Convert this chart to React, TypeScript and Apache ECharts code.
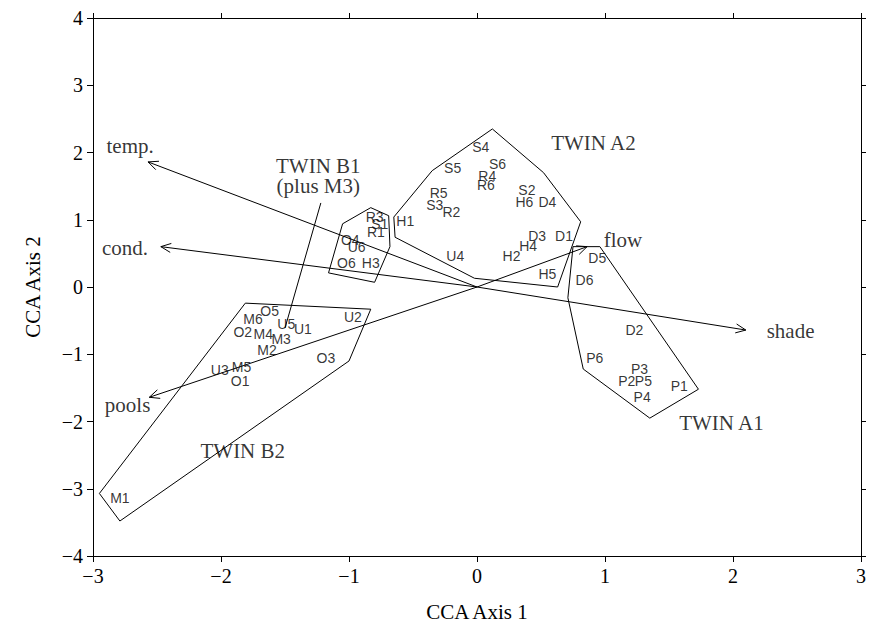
import React, { useEffect, useRef } from "react";
import * as echarts from "echarts";

// Site scores (label centres) on CCA axes 1 and 2
const siteNames = [
  "S4", "S5", "S6", "R4", "R6", "R5", "S3", "R2", "S2", "H6", "D4", "H1", "D3", "D1", "H4", "H2", "U4", "H5",
  "D5", "D6", "D2", "P6", "P3", "P2", "P5", "P4", "P1",
  "R3", "S1", "R1", "O4", "U6", "O6", "H3",
  "O5", "M6", "U5", "U1", "O2", "M4", "M3", "M2", "U2", "U3", "M5", "O1", "O3", "M1",
];
const siteX = [
  0.03, -0.19, 0.16, 0.08, 0.07, -0.30, -0.33, -0.20, 0.39, 0.37, 0.55, -0.56, 0.47, 0.68, 0.40, 0.27, -0.17, 0.55,
  0.94, 0.84, 1.23, 0.92, 1.27, 1.17, 1.30, 1.29, 1.58,
  -0.80, -0.76, -0.79, -0.99, -0.94, -1.02, -0.83,
  -1.62, -1.75, -1.49, -1.36, -1.83, -1.67, -1.53, -1.64, -0.97, -2.01, -1.84, -1.85, -1.18, -2.79,
];
const siteY = [
  2.08, 1.77, 1.83, 1.65, 1.52, 1.40, 1.22, 1.12, 1.44, 1.26, 1.26, 0.98, 0.76, 0.76, 0.61, 0.46, 0.46, 0.19,
  0.43, 0.10, -0.64, -1.06, -1.22, -1.40, -1.40, -1.64, -1.47,
  1.04, 0.94, 0.82, 0.70, 0.60, 0.36, 0.36,
  -0.36, -0.48, -0.55, -0.63, -0.67, -0.70, -0.77, -0.94, -0.45, -1.24, -1.19, -1.40, -1.06, -3.14,
];

// Environmental biplot arrows (tips) and their labels
const envNames = ["temp.", "cond.", "pools", "flow", "shade"];
const envTipX = [-2.57, -2.47, -2.56, 0.86, 2.10];
const envTipY = [1.86, 0.60, -1.64, 0.60, -0.64];
const envLabelX = [-2.71, -2.75, -2.73, 1.14, 2.45];
const envLabelY = [2.10, 0.58, -1.76, 0.70, -0.65];

// TWINSPAN group labels
const groupNames = ["TWIN A2", "TWIN B1", "(plus M3)", "TWIN A1", "TWIN B2"];
const groupX = [0.91, -1.24, -1.24, 1.91, -1.83];
const groupY = [2.14, 1.80, 1.50, -2.02, -2.44];

// Group hulls
const hullA2 = [[-0.35, 1.73], [0.12, 2.35], [0.52, 1.70], [0.81, 0.97], [0.63, 0.0], [-0.02, 0.13], [-0.64, 0.74], [-0.65, 1.04]];
const hullB1 = [[-0.83, 1.18], [-0.69, 1.06], [-0.68, 0.60], [-0.80, 0.07], [-1.16, 0.21], [-1.05, 0.94]];
const hullA1 = [[0.75, 0.60], [0.96, 0.60], [1.73, -1.52], [1.35, -1.95], [0.83, -1.22], [0.71, -0.16]];
const hullB2 = [[-1.81, -0.24], [-0.83, -0.33], [-1.00, -1.10], [-2.79, -3.48], [-2.95, -3.07]];
const leaderB1 = [[-1.22, 1.25], [-1.50, -0.61]];

const SERIF = "Liberation Serif";
const SANS = "Liberation Sans";

const closed = (pts: number[][]) => [...pts, pts[0]];
const minus = (v: number) => String(v).replace("-", "\u2212");

export default function App() {
  const ref = useRef<HTMLDivElement>(null);
  useEffect(() => {
    if (!ref.current) return;
    const chart = echarts.init(ref.current, undefined, { renderer: "svg" });
    const lineSeries = (pts: number[][]) => ({
      type: "line",
      data: pts,
      symbol: "none",
      silent: true,
      lineStyle: { color: "#000", width: 1 },
      z: 2,
    });
    const textSeries = (names: string[], xs: number[], ys: number[], font: string, size: number) => ({
      type: "scatter",
      silent: true,
      symbolSize: 1,
      itemStyle: { color: "rgba(0,0,0,0)" },
      data: names.map((n, i) => ({ name: n, value: [xs[i], ys[i]] })),
      label: {
        show: true,
        position: "inside",
        formatter: (p: any) => p.name,
        color: "#000",
        fontFamily: font,
        fontSize: size,
      },
      z: 5,
    });
    const baseX = {
      type: "value",
      min: -3,
      max: 3,
      interval: 1,
      splitLine: { show: false },
      axisLine: { show: true, onZero: false, lineStyle: { color: "#000", width: 1 } },
    };
    const baseY = {
      type: "value",
      min: -4,
      max: 4,
      interval: 1,
      splitLine: { show: false },
      axisLine: { show: true, onZero: false, lineStyle: { color: "#000", width: 1 } },
    };
    chart.setOption({
      animation: false,
      backgroundColor: "#fff",
      grid: { left: 93, right: 3, top: 18, bottom: 80 },
      xAxis: [
        {
          ...baseX,
          position: "bottom",
          axisTick: { show: true, length: 6, lineStyle: { color: "#000" } },
          axisLabel: { color: "#000", fontFamily: SERIF, fontSize: 20, margin: 10, formatter: minus },
          name: "CCA Axis 1",
          nameLocation: "middle",
          nameGap: 45,
          nameTextStyle: { color: "#000", fontFamily: SERIF, fontSize: 21 },
        },
        {
          ...baseX,
          position: "top",
          axisTick: { show: true, length: 5, lineStyle: { color: "#000" } },
          axisLabel: { show: false },
        },
      ],
      yAxis: [
        {
          ...baseY,
          position: "left",
          axisTick: { show: true, length: 6, lineStyle: { color: "#000" } },
          axisLabel: { color: "#000", fontFamily: SERIF, fontSize: 20, margin: 10, formatter: minus },
          name: "CCA Axis 2",
          nameLocation: "middle",
          nameGap: 50,
          nameTextStyle: { color: "#000", fontFamily: SERIF, fontSize: 21 },
        },
        {
          ...baseY,
          position: "right",
          axisTick: { show: true, length: 5, lineStyle: { color: "#000" } },
          axisLabel: { show: false },
        },
      ],
      series: [
        lineSeries(closed(hullA2)),
        lineSeries(closed(hullB1)),
        lineSeries(closed(hullA1)),
        lineSeries(closed(hullB2)),
        lineSeries(leaderB1),
        {
          type: "custom",
          silent: true,
          data: envTipX.map((x, i) => [x, envTipY[i]]),
          renderItem: (_params: any, api: any) => {
            const o = api.coord([0, 0]);
            const t = api.coord([api.value(0), api.value(1)]);
            const dx = t[0] - o[0];
            const dy = t[1] - o[1];
            const len = Math.hypot(dx, dy);
            const ux = dx / len;
            const uy = dy / len;
            const hl = 10;
            const hw = 4.5;
            const b = [t[0] - ux * hl, t[1] - uy * hl];
            const p1 = [b[0] - uy * hw, b[1] + ux * hw];
            const p2 = [b[0] + uy * hw, b[1] - ux * hw];
            return {
              type: "group",
              children: [
                { type: "line", shape: { x1: o[0], y1: o[1], x2: t[0], y2: t[1] }, style: { stroke: "#000", lineWidth: 1 } },
                { type: "polyline", shape: { points: [p1, t, p2] }, style: { stroke: "#000", fill: null, lineWidth: 1 } },
              ],
            };
          },
          z: 3,
        },
        textSeries(siteNames, siteX, siteY, SANS, 14),
        textSeries(envNames, envLabelX, envLabelY, SERIF, 21),
        textSeries(groupNames, groupX, groupY, SERIF, 21),
      ],
    });
    return () => chart.dispose();
  }, []);
  return <div ref={ref} style={{ position: "fixed", left: 0, top: 0, width: 869, height: 636 }} />;
}
